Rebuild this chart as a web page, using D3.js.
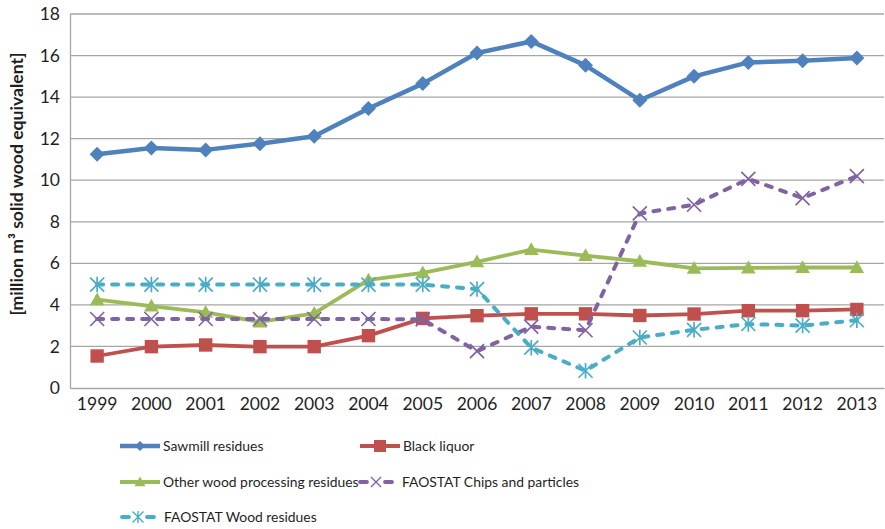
<!DOCTYPE html>
<html>
<head>
<meta charset="utf-8">
<script src="https://cdn.jsdelivr.net/npm/d3@7"></script>
<style>
  html, body { margin: 0; padding: 0; background: #fff; }
  svg { display: block; font-family: Lato, "Open Sans", sans-serif; }
</style>
</head>
<body>
<svg id="chart" width="885" height="529"></svg>
<script>
// Wood residue volumes, 1999–2013
const years = ["1999","2000","2001","2002","2003","2004","2005","2006","2007","2008","2009","2010","2011","2012","2013"];
const sawmillResidues = [11.25, 11.55, 11.46, 11.76, 12.12, 13.45, 14.65, 16.12, 16.68, 15.53, 13.85, 15.0, 15.67, 15.75, 15.88];
const blackLiquor     = [1.54, 1.99, 2.07, 1.99, 1.99, 2.52, 3.35, 3.48, 3.57, 3.57, 3.49, 3.56, 3.72, 3.72, 3.78];
const otherWoodProc   = [4.25, 3.94, 3.64, 3.18, 3.59, 5.2, 5.54, 6.07, 6.66, 6.37, 6.1, 5.76, 5.78, 5.8, 5.8];
const faoChips        = [3.32, 3.32, 3.32, 3.32, 3.32, 3.32, 3.3, 1.77, 2.95, 2.78, 8.4, 8.82, 10.06, 9.14, 10.2];
const faoWoodRes      = [4.98, 4.98, 4.98, 4.98, 4.98, 4.98, 4.98, 4.76, 1.94, 0.83, 2.43, 2.8, 3.08, 3.0, 3.26];
const yTicks = [0, 2, 4, 6, 8, 10, 12, 14, 16, 18];
const yTitle = "[million m\u00B3 solid wood equivalent]";

const series = [
  { name: "Sawmill residues", values: sawmillResidues, color: "#4F81BD", width: 4.5, dash: null, marker: "diamond" },
  { name: "Black liquor", values: blackLiquor, color: "#C0504D", width: 3.8, dash: null, marker: "square" },
  { name: "Other wood processing residues", values: otherWoodProc, color: "#9BBB59", width: 3.8, dash: null, marker: "triangle" },
  { name: "FAOSTAT Chips and particles", values: faoChips, color: "#8064A2", width: 4, dash: "6,9", marker: "x" },
  { name: "FAOSTAT Wood residues", values: faoWoodRes, color: "#4BACC6", width: 4, dash: "6,9", marker: "asterisk" }
];

const svg = d3.select("#chart");
const margin = { left: 70, right: 1, top: 14, bottom: 141 };
const W = 885, H = 529;
const plotW = W - margin.left - margin.right;
const plotH = H - margin.top - margin.bottom;
const textColor = "#1f1f1f";

const x = d3.scaleBand().domain(years).range([margin.left, margin.left + plotW]);
const y = d3.scaleLinear().domain([0, 18]).range([margin.top + plotH, margin.top]);
const cx = d => x(d) + x.bandwidth() / 2;

// horizontal gridlines
svg.append("g")
  .selectAll("line")
  .data(yTicks.filter(t => t > 0))
  .join("line")
  .attr("x1", margin.left).attr("x2", margin.left + plotW)
  .attr("y1", d => y(d)).attr("y2", d => y(d))
  .attr("stroke", "#A6A6A6").attr("stroke-width", 1.3);

// axes
const yAxis = svg.append("g")
  .attr("transform", `translate(${margin.left},0)`)
  .call(d3.axisLeft(y).tickValues(yTicks).tickSize(0).tickPadding(10));
yAxis.select(".domain").attr("stroke", "#A6A6A6").attr("stroke-width", 1.3);
yAxis.selectAll("text").attr("font-size", 17.5).attr("fill", textColor).attr("font-family", "Lato, sans-serif");

const xAxis = svg.append("g")
  .attr("transform", `translate(0,${margin.top + plotH})`)
  .call(d3.axisBottom(x).tickSize(0).tickPadding(10));
xAxis.select(".domain").attr("stroke", "#A6A6A6").attr("stroke-width", 1.3);
xAxis.selectAll("text").attr("font-size", 17.5).attr("fill", textColor).attr("font-family", "Lato, sans-serif");

// y axis title
svg.append("text")
  .attr("transform", `translate(17,184) rotate(-90)`)
  .attr("text-anchor", "middle")
  .attr("dy", "0.35em")
  .attr("font-size", 17.6).attr("font-weight", "bold").attr("fill", textColor)
  .text(yTitle);

// marker shapes
function markerPath(type, s) {
  switch (type) {
    case "diamond":  return `M0,${-s}L${s},0L0,${s}L${-s},0Z`;
    case "square":   return `M${-s},${-s}H${s}V${s}H${-s}Z`;
    case "triangle": return `M0,${-s}L${s},${s * 0.75}L${-s},${s * 0.75}Z`;
    case "x":        return `M${-s},${-s}L${s},${s}M${s},${-s}L${-s},${s}`;
    case "asterisk": return `M${-s},${-s}L${s},${s}M${s},${-s}L${-s},${s}M0,${-s * 1.1}V${s * 1.1}`;
  }
}
const filled = t => t === "diamond" || t === "square" || t === "triangle";
const markerSize = { diamond: 7.5, square: 6.7, triangle: 7.3, x: 7, asterisk: 7 };

const line = d3.line().x((d, i) => cx(years[i])).y(d => y(d));

series.forEach(s => {
  const g = svg.append("g");
  g.append("path")
    .datum(s.values)
    .attr("d", line)
    .attr("fill", "none")
    .attr("stroke", s.color)
    .attr("stroke-width", s.width)
    .attr("stroke-linejoin", "round")
    .attr("stroke-linecap", s.dash ? "round" : "butt")
    .attr("stroke-dasharray", s.dash);
  g.selectAll("path.m")
    .data(s.values)
    .join("path")
    .attr("class", "m")
    .attr("transform", (d, i) => `translate(${cx(years[i])},${y(d)})`)
    .attr("d", markerPath(s.marker, markerSize[s.marker]))
    .attr("fill", filled(s.marker) ? s.color : "none")
    .attr("stroke", s.color)
    .attr("stroke-width", filled(s.marker) ? 0 : 1.7);
});

// legend
const legendPos = [
  { x: 120, y: 446 }, { x: 360, y: 446 },
  { x: 120, y: 482 }, { x: 358, y: 482 },
  { x: 120, y: 517 }
];
const legendMarker = { diamond: 5, square: 6, triangle: 5.5, x: 5, asterisk: 5.5 };
series.forEach((s, i) => {
  const p = legendPos[i];
  const len = s.dash ? 36 : 40;
  const g = svg.append("g").attr("transform", `translate(${p.x},${p.y})`);
  if (s.dash) {
    g.append("line").attr("x1", 2).attr("x2", len - 2)
      .attr("stroke", s.color).attr("stroke-width", 3.8)
      .attr("stroke-linecap", "round").attr("stroke-dasharray", "7,18");
  } else {
    g.append("line").attr("x1", 0).attr("x2", len)
      .attr("stroke", s.color).attr("stroke-width", s.width);
  }
  g.append("path")
    .attr("transform", `translate(${len / 2},0)`)
    .attr("d", markerPath(s.marker, legendMarker[s.marker]))
    .attr("fill", filled(s.marker) ? s.color : "none")
    .attr("stroke", s.color)
    .attr("stroke-width", filled(s.marker) ? 0 : 1.4);
  g.append("text")
    .attr("x", s.dash ? 44 : 43)
    .attr("dy", "0.35em")
    .attr("font-size", 13.9).attr("fill", textColor)
    .text(s.name);
});
</script>
</body>
</html>
